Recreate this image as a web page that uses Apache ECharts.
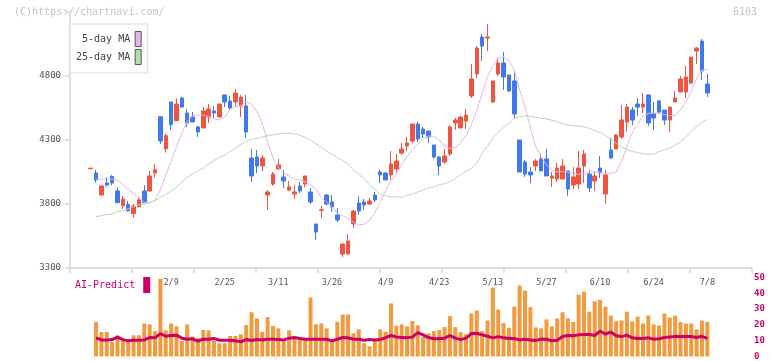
<!DOCTYPE html>
<html>
<head>
<meta charset="utf-8">
<title>6103</title>
<script src="https://cdn.jsdelivr.net/npm/echarts@6/dist/echarts.min.js"></script>
<style>
  html, body { margin: 0; padding: 0; background: #fff; }
  #chart { width: 772px; height: 361px; }
</style>
</head>
<body>
<div id="chart"></div>
<script>
// 日付 (2026)
var dates = ['1/19','1/20','1/21','1/22','1/23','1/26','1/27','1/28','1/29','1/30',
  '2/2','2/3','2/4','2/5','2/6','2/9','2/10','2/12','2/13','2/16','2/17','2/18','2/19','2/20','2/24','2/25','2/26','2/27',
  '3/2','3/3','3/4','3/5','3/6','3/9','3/10','3/11','3/12','3/13','3/16','3/17','3/18','3/19','3/23','3/24','3/25','3/26','3/27','3/30','3/31',
  '4/1','4/2','4/3','4/6','4/7','4/8','4/9','4/10','4/13','4/14','4/15','4/16','4/17','4/20','4/21','4/22','4/23','4/24','4/27','4/28','4/30',
  '5/1','5/7','5/8','5/11','5/12','5/13','5/14','5/15','5/18','5/19','5/20','5/21','5/22','5/25','5/26','5/27','5/28','5/29',
  '6/1','6/2','6/3','6/4','6/5','6/8','6/9','6/10','6/11','6/12','6/15','6/16','6/17','6/18','6/19','6/22','6/23','6/24','6/25','6/26','6/29','6/30',
  '7/1','7/2','7/3','7/6','7/7','7/8'];

var labelDates = ['2/9','2/25','3/11','3/26','4/9','4/23','5/13','5/27','6/10','6/24','7/8'];

var opens = [4075,4042,3870,3964,4016,3902,3787,3797,3724,3779,
  3902,3902,4042,4482,4232,4597,4451,4628,4511,4480,
  4402,4394,4480,4527,4480,4652,4605,4597,4566,4566,
  4159,4167,4097,3870,3956,4073,4011,3909,3878,3941,
  3956,3894,3644,3750,3870,3816,3714,3409,3409,3644,
  3808,3816,3800,3870,4050,4042,4027,4073,4198,4253,
  4292,4425,4386,4370,4261,4167,4128,4191,4433,4394,
  4448,4644,4816,5105,5097,4597,4816,4902,4808,4761,
  4300,4128,4050,4097,4152,4152,4003,3995,3995,4058,
  3948,3956,4097,4034,3980,4081,3878,4222,4230,4324,
  4441,4534,4581,4558,4652,4503,4605,4534,4456,4597,
  4675,4675,4745,4995,5073,4738];
var closes = [4080,3987,3941,3948,3964,3810,3839,3748,3784,3831,
  3810,4019,4068,4292,4334,4420,4581,4558,4433,4441,
  4363,4527,4542,4511,4581,4597,4550,4667,4636,4363,
  4019,4097,4159,3894,4034,4105,3980,3933,3894,3902,
  4019,3816,3581,3755,3800,3777,3675,3487,3511,3745,
  3745,3792,3823,3831,4027,3988,4113,4136,4230,4277,
  4425,4308,4347,4324,4167,4097,4175,4402,4456,4480,
  4495,4777,5019,5034,5105,4761,4902,4792,4683,4503,
  4050,4034,4027,4136,4058,4019,4019,4081,4097,3917,
  4011,4081,4191,3925,4019,4042,4027,4159,4339,4456,
  4558,4456,4558,4581,4433,4472,4519,4456,4558,4628,
  4777,4792,4948,5019,4839,4667];
var lows = [4075,3966,3866,3935,3948,3810,3761,3740,3693,3771,
  3810,3896,4006,4271,4201,4378,4451,4550,4402,4441,
  4323,4394,4433,4472,4480,4558,4534,4558,4480,4316,
  3972,4042,4058,3753,3941,4073,3925,3902,3839,3886,
  3933,3800,3519,3691,3792,3737,3659,3386,3409,3612,
  3714,3753,3792,3816,3964,3988,3988,4050,4183,4214,
  4277,4284,4316,4277,4152,4027,4113,4175,4378,4394,
  4386,4628,4784,4917,4995,4589,4800,4691,4675,4464,
  4050,4011,3964,4058,4058,4019,3933,3972,3995,3862,
  3917,3917,3964,3894,3902,4003,3800,4159,4230,4308,
  4363,4417,4488,4511,4410,4378,4503,4417,4363,4597,
  4675,4628,4738,4894,4769,4636];
var highs = [4082,4066,3945,4008,4027,3930,3862,3823,3802,3855,
  3948,4061,4113,4482,4352,4597,4626,4636,4542,4519,
  4410,4558,4581,4566,4581,4652,4644,4698,4652,4652,
  4230,4222,4183,3909,4050,4152,4066,3980,3948,3972,
  4019,3925,3644,3784,3878,3870,3769,3495,3566,3753,
  3862,3839,3847,3894,4066,4050,4214,4191,4277,4324,
  4425,4441,4402,4370,4261,4175,4230,4417,4472,4488,
  4542,4894,5034,5128,5206,4761,4941,4988,4808,4823,
  4300,4144,4089,4152,4191,4230,4050,4120,4152,4058,
  4089,4214,4222,4066,4050,4175,4066,4316,4347,4573,
  4581,4558,4628,4667,4652,4597,4613,4534,4558,4683,
  4800,4878,4948,5027,5089,4816];

var ma5 = [null,3988,3995,3995,3995,3988,3951,3915,3880,3847,
  3813,3805,3831,3909,4027,4131,4248,4352,4443,4490,
  4495,4495,4482,4464,4461,4477,4540,4560,4568,4597,
  4581,4521,4430,4287,4157,4087,4045,4019,3993,3988,
  3975,3948,3917,3849,3813,3779,3727,3709,3688,3657,
  3636,3641,3670,3735,3818,3902,3980,4034,4105,4170,
  4227,4266,4308,4331,4329,4300,4253,4235,4240,4279,
  4334,4422,4534,4664,4794,4881,4938,4951,4920,4847,
  4691,4560,4400,4245,4170,4105,4066,4053,4053,4048,
  4040,4032,4036,4048,4053,4048,4040,4040,4050,4131,
  4248,4357,4422,4488,4508,4513,4508,4500,4490,4492,
  4534,4599,4683,4782,4847,4852];
var ma25 = [null,3701,3709,3717,3722,3738,3751,3763,3779,3792,
  3800,3813,3826,3849,3876,3902,3930,3972,4008,4037,
  4060,4081,4113,4139,4165,4180,4209,4237,4266,4290,
  4305,4313,4323,4334,4341,4347,4352,4352,4347,4337,
  4321,4297,4271,4243,4214,4188,4162,4141,4113,4065,
  4032,3998,3950,3912,3875,3863,3857,3857,3852,3868,
  3878,3894,3909,3925,3935,3951,3959,3974,4001,4032,
  4053,4079,4118,4196,4253,4313,4360,4399,4430,4469,
  4482,4488,4485,4477,4472,4464,4454,4443,4427,4417,
  4412,4409,4404,4391,4373,4360,4334,4308,4274,4245,
  4224,4212,4201,4193,4188,4190,4209,4224,4237,4261,
  4287,4321,4365,4404,4438,4461];

var volumes = [null,21.8,15.5,15.5,9.3,13.4,9.9,9.9,13.4,13.4,
  20.9,20.3,16.1,49.1,16.6,20.9,19.1,9.9,20.3,12.6,
  11.6,16.8,16.6,9.9,8.4,8.4,13.0,13.0,14.1,19.9,
  28.0,24.1,15.5,24.9,19.3,17.8,9.9,16.6,12.0,10.5,
  10.9,37.4,20.3,20.9,17.8,9.9,22.0,26.6,26.6,14.7,
  17.2,8.4,6.4,9.9,17.2,15.7,33.6,19.3,20.3,19.1,
  22.4,19.7,12.4,14.7,16.1,16.8,18.6,25.5,18.6,15.5,
  14.1,27.2,29.1,16.1,22.8,43.6,29.7,21.2,18.0,31.6,
  44.9,41.6,31.2,18.4,17.8,23.5,19.1,24.1,28.0,24.1,
  21.8,39.1,41.0,28.4,34.9,35.9,31.6,25.9,22.4,22.8,
  28.4,22.2,25.3,20.9,25.9,20.3,19.7,27.2,24.7,25.9,
  21.8,20.9,20.9,17.2,22.8,21.8];
var aiPredict = [null,11.8,10.5,10.5,10.7,12.2,10.7,9.9,10.3,10.3,
  10.5,12.0,11.8,14.5,12.8,13.3,13.5,11.6,10.9,11.2,
  9.7,10.9,10.9,11.4,10.3,10.3,10.3,9.9,9.3,10.7,
  10.1,10.7,10.5,10.9,10.9,10.7,10.5,11.6,12.0,11.4,
  10.9,10.9,10.9,10.9,10.9,9.9,10.9,12.0,11.8,10.9,
  10.9,10.3,10.7,10.5,10.7,12.0,13.3,12.4,12.1,11.8,
  12.3,15.1,13.7,12.0,11.2,11.2,11.6,13.3,11.6,10.7,
  11.6,14.5,14.7,13.7,12.8,11.8,12.6,11.8,11.4,11.4,
  10.5,10.9,10.5,10.1,10.9,10.9,9.9,10.3,12.6,13.3,
  13.1,13.7,13.9,13.9,13.3,16.1,14.1,15.5,13.1,12.6,
  13.5,11.8,11.4,11.4,11.8,10.9,11.2,12.0,12.4,12.6,
  12.6,12.6,12.6,12.0,12.8,11.4];

var priceTicks = [3300, 3800, 4300, 4800];

var FONT = 'DejaVu Sans Mono';
var AXIS_GRAY = '#dedede';
var UP = '#f05440', DOWN = '#4078f0';

// ローソク足データ [open, close, low, high]
var candles = dates.map(function (d, i) {
  return [opens[i], closes[i], lows[i], highs[i]];
});

var chart = echarts.init(document.getElementById('chart'), null, { renderer: 'canvas' });

var option = {
  animation: false,
  backgroundColor: '#fff',
  textStyle: { fontFamily: FONT },
  graphic: [
    { type: 'text', left: 14, top: 7, style: { text: '(C)https://chartnavi.com/', fill: '#c4c4c4', font: '10px ' + FONT } },
    { type: 'text', right: 15, top: 7, style: { text: '6103', fill: '#c4c4c4', font: '10px ' + FONT } }
  ],
  legend: [
    {
      data: ['5-day MA', '25-day MA'],
      orient: 'vertical',
      left: 70, top: 24,
      align: 'right',
      icon: 'rect',
      itemWidth: 6, itemHeight: 15, itemGap: 2,
      padding: [7, 6, 8, 6],
      backgroundColor: '#fff',
      borderColor: '#d8d8d8', borderWidth: 1,
      itemStyle: { borderColor: '#555', borderWidth: 1 },
      formatter: function (name) { return name.length < 9 ? ' ' + name : name; },
      textStyle: { fontFamily: FONT, fontSize: 10, color: '#444' }
    },
    {
      data: ['AI-Predict'],
      left: 75, top: 277,
      align: 'right',
      icon: 'rect',
      itemWidth: 7, itemHeight: 16,
      padding: 0,
      textStyle: { fontFamily: FONT, fontSize: 10, color: '#cc0066', padding: [0, 3, 0, 0] }
    }
  ],
  grid: [
    { left: 70, top: 12, width: 682, height: 256 },   // 枠・目盛
    { left: 88, top: 12, width: 622, height: 256 },   // ローソク足
    { left: 88, top: 277.5, width: 622, height: 80 }  // 出来高
  ],
  xAxis: [
    {
      type: 'value', gridIndex: 0, min: 0, max: 11, interval: 1,
      axisLine: { show: true, lineStyle: { color: AXIS_GRAY, width: 2 } },
      axisTick: { show: true, length: 5, lineStyle: { color: AXIS_GRAY, width: 2 } },
      axisLabel: { show: false },
      splitLine: { show: false }
    },
    {
      type: 'category', gridIndex: 1, data: dates, boundaryGap: true,
      axisLine: { show: false }, axisTick: { show: false },
      axisLabel: {
        interval: function (idx, val) { return labelDates.indexOf(val) >= 0; },
        margin: 10, fontFamily: FONT, fontSize: 8.5, color: '#555'
      },
      splitLine: { show: false }
    },
    {
      type: 'category', gridIndex: 2, data: dates, boundaryGap: true,
      axisLine: { show: false }, axisTick: { show: false }, axisLabel: { show: false }
    }
  ],
  yAxis: [
    {
      type: 'value', gridIndex: 0, min: 3300, max: 5300, interval: 500,
      axisLine: { show: true, lineStyle: { color: AXIS_GRAY, width: 2 } },
      axisTick: { show: true, length: 5, lineStyle: { color: AXIS_GRAY, width: 2 } },
      axisLabel: {
        margin: 9, fontFamily: FONT, fontSize: 9, color: '#555',
        formatter: function (v) { return priceTicks.indexOf(v) >= 0 ? String(v) : ''; }
      },
      splitLine: { show: false }
    },
    {
      type: 'value', gridIndex: 1, min: 3300, max: 5300,
      show: false, splitLine: { show: false }
    },
    {
      type: 'value', gridIndex: 2, min: 0, max: 50, interval: 10,
      position: 'right', offset: 42,
      axisLine: { show: false }, axisTick: { show: false },
      axisLabel: { margin: 2, fontFamily: FONT, fontSize: 9, fontWeight: 'bold', color: '#cc0066' },
      splitLine: { show: false }
    }
  ],
  series: [
    {
      name: 'frame', type: 'scatter', xAxisIndex: 0, yAxisIndex: 0, data: [], silent: true
    },
    {
      name: 'price', type: 'candlestick', xAxisIndex: 1, yAxisIndex: 1,
      data: candles, barWidth: 4,
      itemStyle: { color: UP, color0: DOWN, borderColor: UP, borderColor0: DOWN, borderColorDoji: UP, borderWidth: 1 },
      z: 2
    },
    {
      name: '5-day MA', type: 'line', xAxisIndex: 1, yAxisIndex: 1,
      data: ma5, showSymbol: false, symbol: 'none',
      color: '#e8b4ea', lineStyle: { color: '#e8b4ea', width: 1 }, z: 3
    },
    {
      name: '25-day MA', type: 'line', xAxisIndex: 1, yAxisIndex: 1,
      data: ma25, showSymbol: false, symbol: 'none',
      color: '#b6dcaa', lineStyle: { color: '#b6dcaa', width: 1 }, z: 3
    },
    {
      name: 'volume', type: 'bar', xAxisIndex: 2, yAxisIndex: 2,
      data: volumes, barWidth: 4,
      itemStyle: { color: '#f39a3f' }, z: 2
    },
    {
      name: 'AI-Predict', type: 'line', xAxisIndex: 2, yAxisIndex: 2,
      data: aiPredict, showSymbol: false, symbol: 'none',
      color: '#cc0066', lineStyle: { color: '#cc0066', width: 3 }, z: 3
    }
  ]
};

chart.setOption(option);
</script>
</body>
</html>
